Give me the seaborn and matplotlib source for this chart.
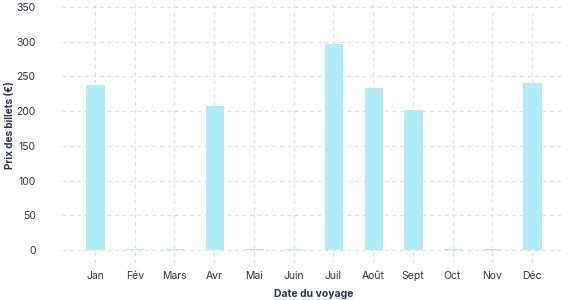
import matplotlib
matplotlib.use("Agg")
import matplotlib.pyplot as plt
import seaborn as sns
import pandas as pd

months = ["Jan", "Fév", "Mars", "Avr", "Mai", "Juin", "Juil", "Août", "Sept", "Oct", "Nov", "Déc"]
prices = [237, 1, 1, 208, 1, 1, 296, 233, 201, 1, 1, 240]
yticks = [0, 50, 100, 150, 200, 250, 300, 350]

sns.set_theme(style="white")
plt.rcParams['font.family'] = ['Inter', 'DejaVu Sans']

df = pd.DataFrame({"mois": months, "prix": prices})

fig = plt.figure(figsize=(5.77, 3.0), dpi=100)
ax = fig.add_axes([62/577, 37/300, 503/577, 263/300])

text_color = "#2b3452"
grid_color = "#e0e0e0"

# shadow bars
sns.barplot(data=df, x="mois", y="prix", ax=ax, color="#d9d9d9", width=0.43,
            saturation=1, zorder=2, linewidth=0)
for p in ax.patches:
    p.set_x(p.get_x() + 0.03)
sns.barplot(data=df, x="mois", y="prix", ax=ax, color="#aeeef8", width=0.43,
            saturation=1, zorder=3, linewidth=0)

ax.set_xlim(-0.83, 11.83)
ax.set_ylim(-18.7, 360)
ax.set_yticks(yticks)
ax.set_yticklabels([str(v) for v in yticks])

ax.grid(True, axis="both", color=grid_color, linestyle=(0, (3, 3)), linewidth=0.9, zorder=0)
ax.set_axisbelow(True)
for s in ax.spines.values():
    s.set_visible(False)
ax.tick_params(axis="both", length=0, labelsize=7.5, colors=text_color)
ax.tick_params(axis="x", pad=6)
ax.tick_params(axis="y", pad=19)

ax.set_xlabel("Date du voyage", fontsize=7.5, fontweight="bold", color=text_color)
ax.set_ylabel("Prix des billets (€)", fontsize=7.2, fontweight="bold", color=text_color)
ax.yaxis.set_label_coords(-0.094, 0.525)
ax.xaxis.set_label_coords(0.5, -0.097)

fig.savefig("out.png", dpi=100)
